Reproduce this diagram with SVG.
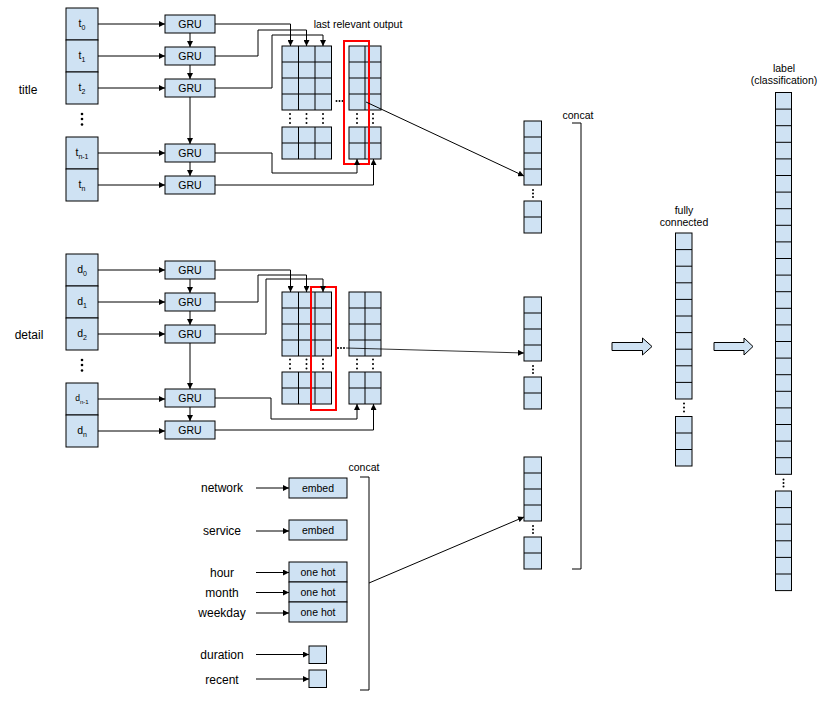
<svg xmlns="http://www.w3.org/2000/svg" width="831" height="704" viewBox="0 0 831 704">
<style>
text{font-family:"Liberation Sans",Arial,sans-serif;fill:#000}
.lbl{font-size:12px}
.sm{font-size:10.5px}
.ctr{text-anchor:middle}
.box{fill:#cfe2f3;stroke:#000;stroke-width:1}
.ln{fill:none;stroke:#000;stroke-width:1}
.red{fill:none;stroke:#ff0000;stroke-width:2}
.conn{fill:none;stroke:#000;stroke-width:1}
.arr{marker-end:url(#ah)}
.dot{fill:#000}
.blk{fill:#cfe2f3;stroke:#000;stroke-width:1}
</style>
<defs>
<marker id="ah" viewBox="0 0 10 10" refX="10" refY="5" markerWidth="6" markerHeight="6" orient="auto" markerUnits="userSpaceOnUse"><path d="M0,0 L10,5 L0,10 z" fill="#000"/></marker>
</defs>
<rect width="831" height="704" fill="#fff"/>

<!-- section labels -->
<text class="lbl" x="28" y="94" text-anchor="middle">title</text>
<text class="lbl" x="29" y="339" text-anchor="middle">detail</text>

<!-- title inputs -->
<g id="title-inputs">
<rect class="box" x="66" y="8" width="32" height="32"/>
<rect class="box" x="66" y="40" width="32" height="32"/>
<rect class="box" x="66" y="72" width="32" height="32"/>
<rect class="box" x="66" y="137" width="32" height="32"/>
<rect class="box" x="66" y="169" width="32" height="32"/>
<text class="sm ctr" x="82" y="27">t<tspan font-size="7" dy="3">0</tspan></text>
<text class="sm ctr" x="82" y="59">t<tspan font-size="7" dy="3">1</tspan></text>
<text class="sm ctr" x="82" y="91">t<tspan font-size="7" dy="3">2</tspan></text>
<text class="sm ctr" x="82" y="156">t<tspan font-size="7" dy="3">n-1</tspan></text>
<text class="sm ctr" x="82" y="188">t<tspan font-size="7" dy="3">n</tspan></text>
<circle class="dot" cx="82" cy="114" r="1.3"/><circle class="dot" cx="82" cy="119" r="1.3"/><circle class="dot" cx="82" cy="124.5" r="1.3"/>
</g>

<!-- title GRUs -->
<g id="title-gru">
<rect class="box" x="165" y="15" width="50" height="18"/>
<rect class="box" x="165" y="47" width="50" height="18"/>
<rect class="box" x="165" y="79" width="50" height="18"/>
<rect class="box" x="165" y="144" width="50" height="18"/>
<rect class="box" x="165" y="176" width="50" height="18"/>
<text class="sm ctr" x="190" y="28">GRU</text>
<text class="sm ctr" x="190" y="60">GRU</text>
<text class="sm ctr" x="190" y="92">GRU</text>
<text class="sm ctr" x="190" y="157">GRU</text>
<text class="sm ctr" x="190" y="189">GRU</text>
</g>

<!-- title output grids -->
<g id="title-grid1">
<rect class="box" x="282" y="46" width="49.5" height="64"/>
<path class="ln" d="M298.5,46V110M315,46V110M282,62H331.5M282,78H331.5M282,94H331.5"/>
<rect class="box" x="282" y="127" width="49.5" height="32"/>
<path class="ln" d="M298.5,127V159M315,127V159M282,143H331.5"/>
<circle class="dot" cx="290" cy="114" r="1"/><circle class="dot" cx="290" cy="118.5" r="1"/><circle class="dot" cx="290" cy="123" r="1"/>
<circle class="dot" cx="306.5" cy="114" r="1"/><circle class="dot" cx="306.5" cy="118.5" r="1"/><circle class="dot" cx="306.5" cy="123" r="1"/>
<circle class="dot" cx="323" cy="114" r="1"/><circle class="dot" cx="323" cy="118.5" r="1"/><circle class="dot" cx="323" cy="123" r="1"/>
<circle class="dot" cx="336.5" cy="101" r="1"/><circle class="dot" cx="339.5" cy="101" r="1"/><circle class="dot" cx="342.5" cy="101" r="1"/>
</g>
<g id="title-grid2">
<rect class="box" x="349" y="46" width="32" height="64"/>
<path class="ln" d="M365,46V110M349,62H381M349,78H381M349,94H381"/>
<rect class="box" x="349" y="127" width="32" height="32"/>
<path class="ln" d="M365,127V159M349,143H381"/>
<circle class="dot" cx="357" cy="114" r="1"/><circle class="dot" cx="357" cy="118.5" r="1"/><circle class="dot" cx="357" cy="123" r="1"/>
<circle class="dot" cx="373" cy="114" r="1"/><circle class="dot" cx="373" cy="118.5" r="1"/><circle class="dot" cx="373" cy="123" r="1"/>
</g>
<rect id="title-last" class="red" x="344" y="41" width="25" height="123"/>
<text class="sm ctr" x="358" y="28">last relevant output</text>

<!-- detail inputs -->
<g id="detail-inputs">
<rect class="box" x="66" y="254" width="32" height="32"/>
<rect class="box" x="66" y="286" width="32" height="32"/>
<rect class="box" x="66" y="318" width="32" height="32"/>
<rect class="box" x="66" y="383" width="32" height="32"/>
<rect class="box" x="66" y="415" width="32" height="32"/>
<text class="sm ctr" x="82" y="273">d<tspan font-size="7" dy="3">0</tspan></text>
<text class="sm ctr" x="82" y="305">d<tspan font-size="7" dy="3">1</tspan></text>
<text class="sm ctr" x="82" y="337">d<tspan font-size="7" dy="3">2</tspan></text>
<text class="ctr" font-size="8.5" x="82" y="401">d<tspan font-size="6" dy="2.5">n-1</tspan></text>
<text class="sm ctr" x="82" y="434">d<tspan font-size="7" dy="3">n</tspan></text>
<circle class="dot" cx="82" cy="360" r="1.3"/><circle class="dot" cx="82" cy="365" r="1.3"/><circle class="dot" cx="82" cy="370.5" r="1.3"/>
</g>

<!-- detail GRUs -->
<g id="detail-gru">
<rect class="box" x="165" y="261" width="50" height="18"/>
<rect class="box" x="165" y="293" width="50" height="18"/>
<rect class="box" x="165" y="325" width="50" height="18"/>
<rect class="box" x="165" y="389" width="50" height="18"/>
<rect class="box" x="165" y="421" width="50" height="18"/>
<text class="sm ctr" x="190" y="274">GRU</text>
<text class="sm ctr" x="190" y="306">GRU</text>
<text class="sm ctr" x="190" y="338">GRU</text>
<text class="sm ctr" x="190" y="402">GRU</text>
<text class="sm ctr" x="190" y="434">GRU</text>
</g>

<!-- detail output grids -->
<g id="detail-grid1">
<rect class="box" x="282" y="292" width="49.5" height="64"/>
<path class="ln" d="M298.5,292V356M315,292V356M282,308H331.5M282,324H331.5M282,340H331.5"/>
<rect class="box" x="282" y="372" width="49.5" height="32"/>
<path class="ln" d="M298.5,372V404M315,372V404M282,388H331.5"/>
<circle class="dot" cx="290" cy="359.5" r="1"/><circle class="dot" cx="290" cy="364" r="1"/><circle class="dot" cx="290" cy="368.5" r="1"/>
<circle class="dot" cx="306.5" cy="359.5" r="1"/><circle class="dot" cx="306.5" cy="364" r="1"/><circle class="dot" cx="306.5" cy="368.5" r="1"/>
<circle class="dot" cx="323" cy="359.5" r="1"/><circle class="dot" cx="323" cy="364" r="1"/><circle class="dot" cx="323" cy="368.5" r="1"/>
<circle class="dot" cx="338" cy="348" r="1"/><circle class="dot" cx="341" cy="348" r="1"/><circle class="dot" cx="344" cy="348" r="1"/>
</g>
<g id="detail-grid2">
<rect class="box" x="349" y="292" width="32" height="64"/>
<path class="ln" d="M365,292V356M349,308H381M349,324H381M349,340H381"/>
<rect class="box" x="349" y="372" width="32" height="32"/>
<path class="ln" d="M365,372V404M349,388H381"/>
<circle class="dot" cx="357" cy="359.5" r="1"/><circle class="dot" cx="357" cy="364" r="1"/><circle class="dot" cx="357" cy="368.5" r="1"/>
<circle class="dot" cx="373" cy="359.5" r="1"/><circle class="dot" cx="373" cy="364" r="1"/><circle class="dot" cx="373" cy="368.5" r="1"/>
</g>
<rect id="detail-last" class="red" x="311" y="287" width="25" height="123"/>

<!-- features -->
<g id="features">
<text class="lbl ctr" x="222" y="492">network</text>
<text class="lbl ctr" x="222" y="535">service</text>
<text class="lbl ctr" x="222" y="577">hour</text>
<text class="lbl ctr" x="222" y="597">month</text>
<text class="lbl ctr" x="222" y="617">weekday</text>
<text class="lbl ctr" x="222" y="659">duration</text>
<text class="lbl ctr" x="222" y="684">recent</text>
<rect class="box" x="289" y="478" width="58" height="20"/>
<rect class="box" x="289" y="520" width="58" height="20"/>
<rect class="box" x="289" y="562" width="58" height="20"/>
<rect class="box" x="289" y="582" width="58" height="20"/>
<rect class="box" x="289" y="602" width="58" height="20"/>
<rect class="box" x="309" y="646" width="17.5" height="17.5"/>
<rect class="box" x="309" y="670" width="17.5" height="17.5"/>
<text class="sm ctr" x="318" y="492">embed</text>
<text class="sm ctr" x="318" y="534">embed</text>
<text class="sm ctr" x="318" y="576">one hot</text>
<text class="sm ctr" x="318" y="596">one hot</text>
<text class="sm ctr" x="318" y="616">one hot</text>
</g>
<g id="features-concat">
<path class="ln" d="M360,477H369V690H360"/>
<text class="sm ctr" x="364" y="471">concat</text>
</g>

<!-- concat vectors -->
<g id="vec-title">
<rect class="box" x="524" y="121" width="17.5" height="64"/>
<path class="ln" d="M524,137H541.5M524,153H541.5M524,169H541.5"/>
<circle class="dot" cx="533" cy="190" r="1"/><circle class="dot" cx="533" cy="193.5" r="1"/><circle class="dot" cx="533" cy="197" r="1"/>
<rect class="box" x="524" y="201" width="17.5" height="32"/>
<path class="ln" d="M524,217H541.5"/>
</g>
<g id="vec-detail">
<rect class="box" x="524" y="297" width="17.5" height="64"/>
<path class="ln" d="M524,313H541.5M524,329H541.5M524,345H541.5"/>
<circle class="dot" cx="533" cy="366" r="1"/><circle class="dot" cx="533" cy="369.5" r="1"/><circle class="dot" cx="533" cy="373" r="1"/>
<rect class="box" x="524" y="377" width="17.5" height="32"/>
<path class="ln" d="M524,393H541.5"/>
</g>
<g id="vec-features">
<rect class="box" x="524" y="457" width="17.5" height="64"/>
<path class="ln" d="M524,473H541.5M524,489H541.5M524,505H541.5"/>
<circle class="dot" cx="533" cy="526" r="1"/><circle class="dot" cx="533" cy="529.5" r="1"/><circle class="dot" cx="533" cy="533" r="1"/>
<rect class="box" x="524" y="537" width="17.5" height="32"/>
<path class="ln" d="M524,553H541.5"/>
</g>
<g id="main-concat">
<path class="ln" d="M572,123H581V569H572"/>
<text class="sm ctr" x="578" y="119">concat</text>
</g>

<!-- block arrows -->
<polygon id="blk1" class="blk" points="612,342.5 642.5,342.5 642.5,338 652,346.5 642.5,355 642.5,350.5 612,350.5"/>
<polygon id="blk2" class="blk" points="714,342.5 744,342.5 744,338 753,346.5 744,355 744,350.5 714,350.5"/>

<!-- fully connected -->
<g id="fully-connected">
<text class="sm ctr" x="684" y="214">fully</text>
<text class="sm ctr" x="684" y="226">connected</text>
<rect class="box" x="675.5" y="233" width="16.5" height="166"/>
<path class="ln" d="M675.5,249.6H692M675.5,266.2H692M675.5,282.8H692M675.5,299.4H692M675.5,316H692M675.5,332.6H692M675.5,349.2H692M675.5,365.8H692M675.5,382.4H692"/>
<circle class="dot" cx="684" cy="403.5" r="1"/><circle class="dot" cx="684" cy="407.5" r="1"/><circle class="dot" cx="684" cy="411.5" r="1"/>
<rect class="box" x="675.5" y="416.5" width="16.5" height="49.5"/>
<path class="ln" d="M675.5,433H692M675.5,449.5H692"/>
</g>

<!-- label -->
<g id="label">
<text class="sm ctr" x="784" y="72">label</text>
<text class="sm ctr" x="784" y="84">(classification)</text>
<rect class="box" x="775.5" y="92.5" width="16" height="381.8"/>
<path class="ln" d="M775.5,109.1H791.5M775.5,125.7H791.5M775.5,142.3H791.5M775.5,158.9H791.5M775.5,175.5H791.5M775.5,192.1H791.5M775.5,208.7H791.5M775.5,225.3H791.5M775.5,241.9H791.5M775.5,258.5H791.5M775.5,275.1H791.5M775.5,291.7H791.5M775.5,308.3H791.5M775.5,324.9H791.5M775.5,341.5H791.5M775.5,358.1H791.5M775.5,374.7H791.5M775.5,391.3H791.5M775.5,407.9H791.5M775.5,424.5H791.5M775.5,441.1H791.5M775.5,457.7H791.5"/>
<circle class="dot" cx="783.5" cy="479.5" r="1"/><circle class="dot" cx="783.5" cy="483" r="1"/><circle class="dot" cx="783.5" cy="486.5" r="1"/>
<rect class="box" x="775.5" y="491" width="16" height="99.6"/>
<path class="ln" d="M775.5,507.6H791.5M775.5,524.2H791.5M775.5,540.8H791.5M775.5,557.4H791.5M775.5,574H791.5"/>
</g>

<!-- connectors -->
<g id="connectors">
<path class="conn arr" d="M98,24H165"/>
<path class="conn arr" d="M98,56H165"/>
<path class="conn arr" d="M98,88H165"/>
<path class="conn arr" d="M98,153H165"/>
<path class="conn arr" d="M98,185H165"/>
<path class="conn arr" d="M190,33V47"/>
<path class="conn arr" d="M190,65V79"/>
<path class="conn arr" d="M190,97V144"/>
<path class="conn arr" d="M190,162V176"/>
<path class="conn arr" d="M215,24H290.5V46"/>
<path class="conn arr" d="M215,56H258V30H306.5V46"/>
<path class="conn arr" d="M215,88H272V35H323V46"/>
<path class="conn arr" d="M215,153H272V173H357V159"/>
<path class="conn arr" d="M215,185H373.5V159"/>
<path class="conn arr" d="M366,102L524,176"/>

<path class="conn arr" d="M98,270H165"/>
<path class="conn arr" d="M98,302H165"/>
<path class="conn arr" d="M98,334H165"/>
<path class="conn arr" d="M98,399H165"/>
<path class="conn arr" d="M98,431H165"/>
<path class="conn arr" d="M190,279V293"/>
<path class="conn arr" d="M190,311V325"/>
<path class="conn arr" d="M190,343V389"/>
<path class="conn arr" d="M190,407V421"/>
<path class="conn arr" d="M215,270H290.5V292"/>
<path class="conn arr" d="M215,302H258V275H306.5V292"/>
<path class="conn arr" d="M215,334H266V279H323V292"/>
<path class="conn arr" d="M215,398H271V419H357V404"/>
<path class="conn arr" d="M215,430H373.5V404"/>
<path class="conn arr" d="M346,348L524,353" stroke-opacity="0.8"/>

<path class="conn arr" d="M256,488H289"/>
<path class="conn arr" d="M256,531H289"/>
<path class="conn arr" d="M256,572.5H289"/>
<path class="conn arr" d="M256,592.5H289"/>
<path class="conn arr" d="M256,613H289"/>
<path class="conn arr" d="M256,654.5H309"/>
<path class="conn arr" d="M256,679H309"/>
<path class="conn arr" d="M369,583L524,517"/>
</g>
</svg>
